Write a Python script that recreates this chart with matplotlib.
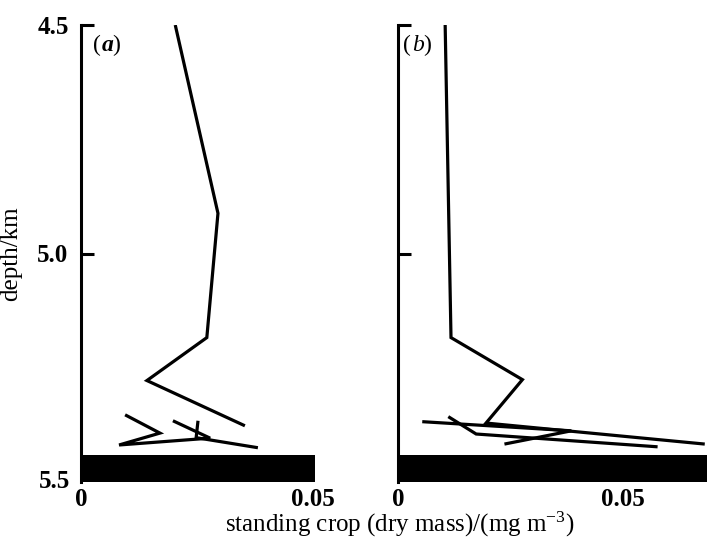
import matplotlib
matplotlib.use("Agg")
import matplotlib.pyplot as plt

plt.rcParams['font.family'] = ['Liberation Serif', 'DejaVu Serif']
plt.rcParams['mathtext.fontset'] = 'custom'
plt.rcParams['mathtext.rm'] = 'Liberation Serif'
plt.rcParams['mathtext.it'] = 'Liberation Serif:italic'

# Panel (a): standing crop (mg m^-3) vs depth (km)
a1_x = [0.0203, 0.0295, 0.0271, 0.0142, 0.0353]
a1_d = [4.500, 4.912, 5.184, 5.278, 5.377]
a2_x = [0.0095, 0.0170, 0.0082, 0.0278, 0.0198]
a2_d = [5.353, 5.393, 5.419, 5.404, 5.366]
a3_x = [0.0252, 0.0248, 0.0381]
a3_d = [5.366, 5.403, 5.425]

# Panel (b)
b1_x = [0.0105, 0.0118, 0.0277, 0.0196, 0.0683]
b1_d = [4.500, 5.184, 5.276, 5.371, 5.417]
b2_x = [0.0054, 0.0386, 0.0237]
b2_d = [5.368, 5.388, 5.417]
b3_x = [0.0112, 0.0174, 0.0578]
b3_d = [5.357, 5.395, 5.423]

seafloor_top = 5.44
y_ticks = [4.5, 5.0, 5.5]
y_ticklabels = ['4.5', '5.0', '5.5']
x_ticks = [0, 0.05]
x_ticklabels = ['0', '0.05']

fig = plt.figure(figsize=(7.07, 5.44), dpi=100)
axa = fig.add_axes([81/707, 62/544, 234/707, 457/544])
axb = fig.add_axes([398/707, 62/544, 309/707, 457/544])

lw = 2.3
panels = [
    (axa, [(a1_x, a1_d), (a2_x, a2_d), (a3_x, a3_d)], 0.0504, 'a', 'bold', True, 0.0026),
    (axb, [(b1_x, b1_d), (b2_x, b2_d), (b3_x, b3_d)], 0.0688, 'b', 'normal', False, 0.0012),
]
for ax, series, xmax, letter, weight, show_y, lx in panels:
    for xs, ds in series:
        ax.plot(xs, ds, color='black', lw=lw, solid_joinstyle='miter', solid_capstyle='butt')
    ax.fill_between([0, xmax], seafloor_top, 5.5, color='black', lw=0)
    ax.set_xlim(0, xmax)
    ax.set_ylim(5.5, 4.5)
    for s in ['top', 'right', 'bottom']:
        ax.spines[s].set_visible(False)
    ax.spines['left'].set_linewidth(2.2)
    ax.set_yticks(y_ticks[:2])
    ax.tick_params(axis='y', direction='in', length=9, width=2.2, pad=9)
    if show_y:
        ax.set_yticklabels(y_ticklabels[:2], fontsize=18, fontweight='bold')
        ax.text(-0.0023, 5.5, y_ticklabels[2], fontsize=18, fontweight='bold',
                ha='right', va='center', transform=ax.transData)
    else:
        ax.set_yticklabels([])
    ax.set_xticks(x_ticks)
    ax.set_xticklabels(x_ticklabels, fontsize=18, fontweight='bold')
    ax.tick_params(axis='x', length=0, pad=4)
    ax.text(lx, 4.545, '(', fontsize=17, ha='left', va='center')
    ax.annotate(letter, xy=(lx, 4.545), xytext=(6, 0), textcoords='offset points',
                fontsize=17, ha='left', va='center', style='italic', fontweight=weight)
    ax.annotate(')', xy=(lx, 4.545), xytext=(14, 0), textcoords='offset points',
                fontsize=17, ha='left', va='center')

axa.set_ylabel('depth/km', fontsize=18, labelpad=11)
fig.text(400/707, 1 - 524/544, 'standing crop (dry mass)/(mg m$^{-3}$)',
         fontsize=18, ha='center', va='center')

fig.savefig('out.png', dpi=100)
